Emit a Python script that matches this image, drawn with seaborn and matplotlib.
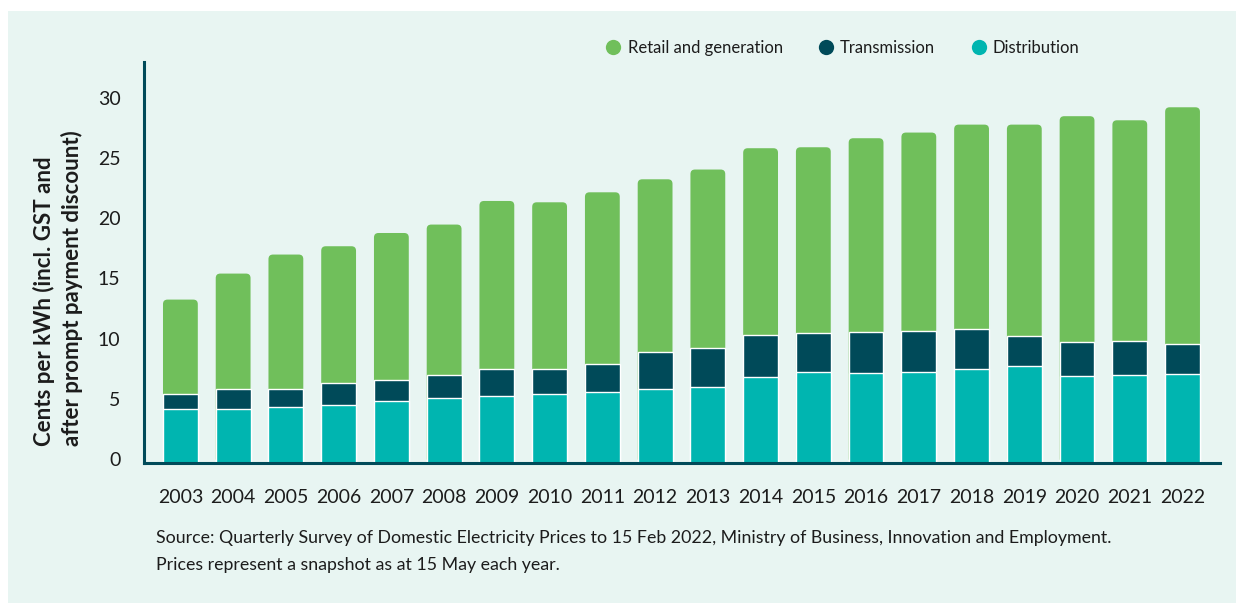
import matplotlib
matplotlib.use("Agg")
import matplotlib.pyplot as plt
import matplotlib.transforms as mtransforms
from matplotlib.patches import FancyBboxPatch, Rectangle
from matplotlib.lines import Line2D
import numpy as np
import pandas as pd
import seaborn as sns

# Residential electricity price components, cents per kWh
years = [str(y) for y in range(2003, 2023)]
distribution = [4.46, 4.46, 4.63, 4.79, 5.12, 5.37, 5.54, 5.71, 5.87, 6.12,
                6.29, 7.12, 7.53, 7.45, 7.53, 7.78, 8.03, 7.20, 7.28, 7.37]
transmission = [1.30, 1.66, 1.49, 1.83, 1.75, 1.91, 2.24, 2.07, 2.33, 3.07,
                3.24, 3.48, 3.24, 3.41, 3.41, 3.32, 2.49, 2.82, 2.82, 2.49]
retail_generation = [7.81, 9.61, 11.19, 11.38, 12.23, 12.52, 13.98, 13.87, 14.28, 14.37,
                     14.84, 15.54, 15.45, 16.11, 16.50, 17.00, 17.58, 18.78, 18.36, 19.68]
series_names = ["Retail and generation", "Transmission", "Distribution"]
y_ticks = [0, 5, 10, 15, 20, 25, 30]

GREEN = "#70BF5B"
DARK = "#004A59"
TEAL = "#00B5B0"
BG = "#E8F5F2"
TEXT = "#1c1c1c"

df = pd.DataFrame({
    "year": years,
    "dist": distribution,
    "trans_cum": np.add(distribution, transmission),
    "total": np.add(np.add(distribution, transmission), retail_generation),
})

sns.set_theme(style="white")
plt.rcParams["font.family"] = ["Lato", "DejaVu Sans"]

fig = plt.figure(figsize=(12.36, 6.03), dpi=100, facecolor="white")
# mint panel with a thin white margin on the left and top
fig.patches.append(Rectangle((8 / 1236, 0), 1, (603 - 11) / 603,
                             transform=fig.transFigure, facecolor=BG,
                             edgecolor="none", zorder=-10))

ax = fig.add_axes([144 / 1236, (603 - 463) / 603, 1076 / 1236, 401 / 603])
ax.set_facecolor("none")

bw = 0.66
sns.barplot(data=df, x="year", y="total", color=GREEN, saturation=1, width=bw, ax=ax)
n_green = len(ax.patches)
sns.barplot(data=df, x="year", y="trans_cum", color=DARK, saturation=1, width=bw, ax=ax)
sns.barplot(data=df, x="year", y="dist", color=TEAL, saturation=1, width=bw, ax=ax)

ax.set_xlim(-0.69, len(years) - 1 + 0.71)
ax.set_ylim(0, 33.3)

# rounded tops on the retail/generation bars (drawn beneath the stacked segments)
fig.canvas.draw()
px_x = ax.transData.transform((1, 0))[0] - ax.transData.transform((0, 0))[0]
px_y = ax.transData.transform((0, 1))[1] - ax.transData.transform((0, 0))[1]
r_px = 4.5
for p in list(ax.patches[:n_green]):
    x0, y0 = p.get_x(), p.get_y()
    w, h = p.get_width(), p.get_height()
    rp = FancyBboxPatch((x0, y0), w, h,
                        boxstyle=f"round,pad=0,rounding_size={r_px / px_x}",
                        mutation_aspect=px_x / px_y,
                        facecolor=GREEN, edgecolor="none",
                        zorder=p.get_zorder() - 0.5)
    p.set_visible(False)
    ax.add_patch(rp)

for s in ["top", "right"]:
    ax.spines[s].set_visible(False)
for s in ["left", "bottom"]:
    ax.spines[s].set_color(DARK)
    ax.spines[s].set_linewidth(2.2)
    ax.spines[s].set_zorder(5)

ax.set_yticks(y_ticks)
ax.set_yticklabels([str(t) for t in y_ticks])
ax.tick_params(axis="y", length=0, pad=17, labelsize=14, labelcolor=TEXT)
ax.tick_params(axis="x", length=0, pad=19, labelsize=14, labelcolor=TEXT)
offset = mtransforms.ScaledTranslation(0, 4 / 100, fig.dpi_scale_trans)
for lab in ax.get_yticklabels():
    lab.set_transform(lab.get_transform() + offset)
ax.set_xlabel("")
ax.set_ylabel("")

fig.text(58 / 1236, (603 - 446) / 603,
         "Cents per kWh (incl. GST and\nafter prompt payment discount)",
         rotation=90, ha="center", va="bottom", multialignment="left",
         fontsize=16, fontweight="bold", color=TEXT, linespacing=1.3)

handles = [Line2D([], [], linestyle="none", marker="o", markersize=11,
                  markerfacecolor=c, markeredgecolor="none")
           for c in (GREEN, DARK, TEAL)]
fig.legend(handles, series_names, loc="center",
           bbox_to_anchor=(844 / 1236, (603 - 48) / 603),
           ncol=3, frameon=False, fontsize=12, labelcolor=TEXT,
           handlelength=0.6, handletextpad=0.55, columnspacing=2.3)

fig.text(156 / 1236, (603 - 538) / 603,
         "Source: Quarterly Survey of Domestic Electricity Prices to 15 Feb 2022, "
         "Ministry of Business, Innovation and Employment.",
         ha="left", va="center", fontsize=12.8, color=TEXT)
fig.text(156 / 1236, (603 - 565) / 603,
         "Prices represent a snapshot as at 15 May each year.",
         ha="left", va="center", fontsize=12.8, color=TEXT)

fig.savefig("out.png", dpi=100, facecolor=fig.get_facecolor())
